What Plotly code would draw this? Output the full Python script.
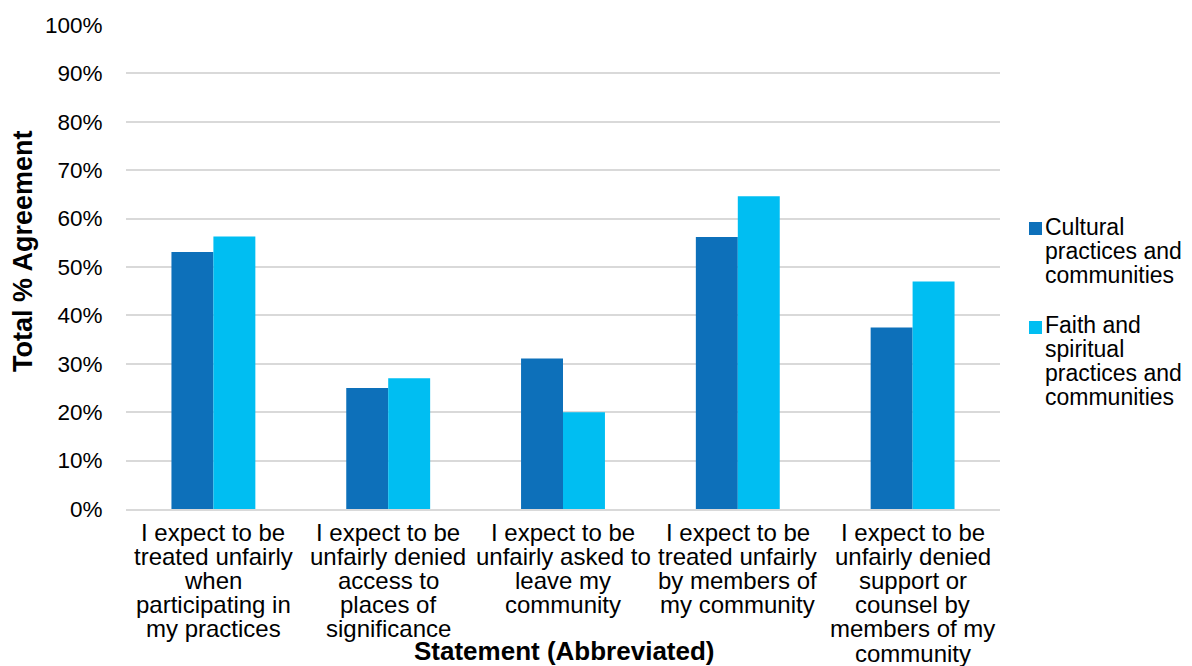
import plotly.graph_objects as go

categories = [
    "I expect to be\ntreated unfairly\nwhen\nparticipating in\nmy practices",
    "I expect to be\nunfairly denied\naccess to\nplaces of\nsignificance",
    "I expect to be\nunfairly asked to\nleave my\ncommunity",
    "I expect to be\ntreated unfairly\nby members of\nmy community",
    "I expect to be\nunfairly denied\nsupport or\ncounsel by\nmembers of my\ncommunity",
]
cultural = [53.1, 25.0, 31.1, 56.2, 37.5]
faith = [56.3, 27.0, 20.0, 64.6, 47.0]
series_names = ["Cultural\npractices and\ncommunities", "Faith and\nspiritual\npractices and\ncommunities"]
series_colors = ["#0D70BA", "#00BEF2"]
y_ticks = list(range(0, 101, 10))
y_labels = [f"{v}%" for v in y_ticks]

FONT = "Liberation Sans, Arial, Helvetica, sans-serif"
OFF = 8  # page body margin offset
W, H = 1192 - OFF, 666 - OFF
L, T = 126 - OFF, 25 - OFF
R = 1192 - 1000
B = 666 - 509
plot_w = W - L - R
plot_h = H - T - B


def px_x(px):
    return (px - OFF - L) / plot_w


def px_y(py):
    return (T + plot_h - (py - OFF)) / plot_h


fig = go.Figure()
for name, vals, col in zip(series_names, [cultural, faith], series_colors):
    fig.add_trace(go.Bar(x=categories, y=vals, name=name.replace("\n", " "),
                         marker=dict(color=col, line=dict(width=0)),
                         showlegend=False))

annotations = []
shapes = []
LINE = 24.2
for cat in categories:
    for i, line in enumerate(cat.split("\n")):
        annotations.append(dict(text=line, x=cat, xref="x", y=0, yref="paper",
                                yanchor="middle", xanchor="center", showarrow=False,
                                yshift=-(23 + i * LINE), borderpad=0,
                                font=dict(size=24, family=FONT, color="#000")))

legend_tops = [227, 325]
legend_squares = [(222, 235), (321, 334)]
for name, col, top, (s0, s1) in zip(series_names, series_colors, legend_tops, legend_squares):
    shapes.append(dict(type="rect", xref="paper", yref="paper",
                       x0=px_x(1029), x1=px_x(1042), y0=px_y(s1), y1=px_y(s0),
                       fillcolor=col, line=dict(width=0)))
    for i, line in enumerate(name.split("\n")):
        annotations.append(dict(text=line, x=px_x(1044), y=px_y(top + i * 24),
                                xref="paper", yref="paper", xanchor="left",
                                yanchor="middle", showarrow=False, borderpad=0,
                                font=dict(size=23, family=FONT, color="#000")))

annotations.append(dict(text="<b>Total % Agreement</b>", x=px_x(23), y=px_y(251),
                        xref="paper", yref="paper", showarrow=False, textangle=-90,
                        xanchor="center", yanchor="middle",
                        font=dict(size=27, family=FONT, color="#000")))
annotations.append(dict(text="<b>Statement (Abbreviated)</b>", x=px_x(564), y=px_y(651),
                        xref="paper", yref="paper", showarrow=False, xanchor="center",
                        yanchor="middle", borderpad=0,
                        font=dict(size=26, family=FONT, color="#000")))

fig.update_layout(
    width=W, height=H,
    margin=dict(l=L, r=R, t=T, b=B, autoexpand=False),
    paper_bgcolor="white", plot_bgcolor="white",
    barmode="group", bargap=0.52, bargroupgap=0,
    font=dict(family=FONT, size=22, color="#000000"),
    showlegend=False,
    xaxis=dict(showgrid=False, showline=True, linecolor="#d9d9d9", linewidth=2,
               ticks="", showticklabels=False, automargin=False),
    yaxis=dict(range=[0, 100], tickvals=y_ticks, ticktext=y_labels,
               showgrid=True, gridcolor="#d9d9d9", gridwidth=1.5,
               zeroline=False, showline=False, ticks="outside", ticklen=18,
               tickcolor="rgba(0,0,0,0)", automargin=False,
               tickfont=dict(size=22.5, family=FONT, color="#000")),
    annotations=annotations,
    shapes=shapes,
)

fig.write_html("out.html")
